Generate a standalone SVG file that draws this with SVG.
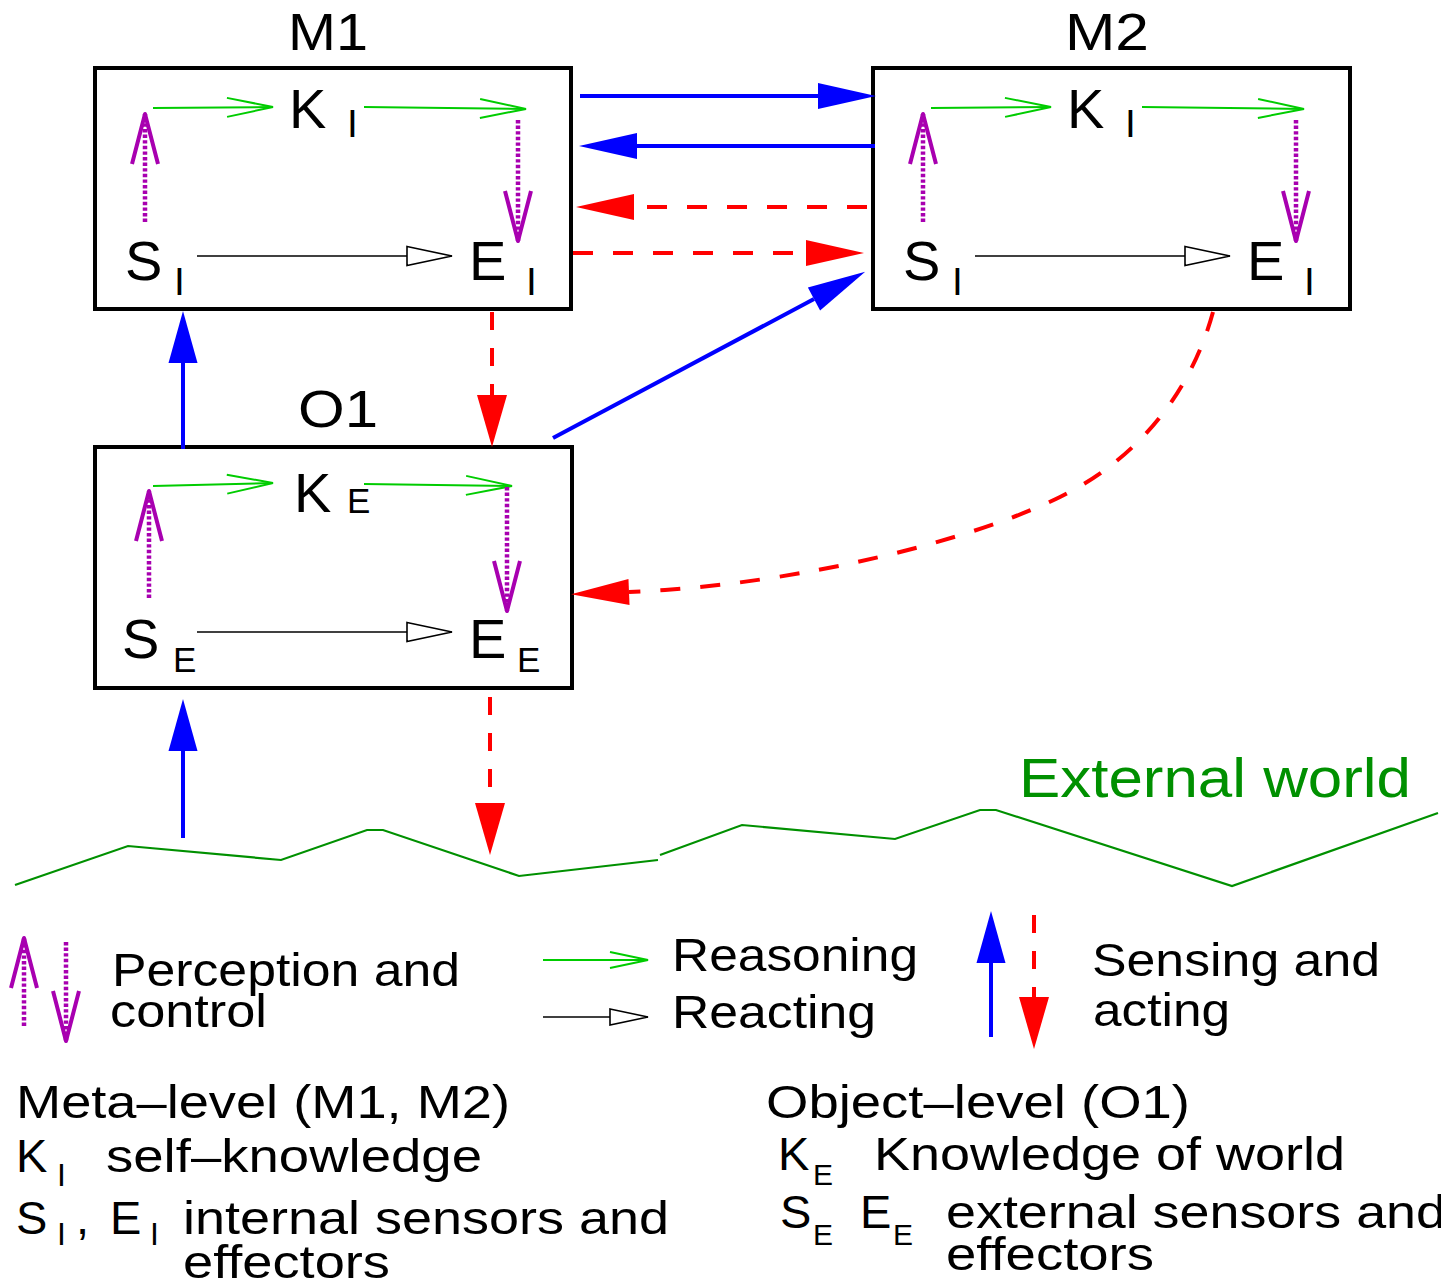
<svg xmlns="http://www.w3.org/2000/svg" width="1441" height="1282" viewBox="0 0 1441 1282">
<style>
text{font-family:"Liberation Sans",Arial,Helvetica,sans-serif;fill:#000}
.box{fill:#fff;stroke:#000;stroke-width:4}
.big{font-size:56px}
.subI{font-size:39px}
.subE{font-size:35px}
.title{font-size:51px}
.leg{font-size:47px}
.reason{fill:none;stroke:#00cc00;stroke-width:2}
.react{fill:none;stroke:#000;stroke-width:1.6}
.perc{fill:none;stroke:#a800b0;stroke-width:4.5;stroke-dasharray:3.4 2.2}
.blue{fill:none;stroke:#0000ff;stroke-width:4}
.red{fill:none;stroke:#ff0000;stroke-width:4;stroke-dasharray:20 20}
.redv{fill:none;stroke:#ff0000;stroke-width:4;stroke-dasharray:18 18}
.world{fill:none;stroke:#009000;stroke-width:2.2}
</style>
<defs>
<marker id="gOpen" markerUnits="userSpaceOnUse" orient="auto" refX="0" refY="0" markerWidth="1" markerHeight="1" overflow="visible"><path d="M-46,-9.5 L0,0 L-46,9.5" fill="none" stroke="#00cc00" stroke-width="2"/></marker>
<marker id="gOpenS" markerUnits="userSpaceOnUse" orient="auto" refX="0" refY="0" markerWidth="1" markerHeight="1" overflow="visible"><path d="M-38,-8 L0,0 L-38,8" fill="none" stroke="#00cc00" stroke-width="2"/></marker>
<marker id="kOpen" markerUnits="userSpaceOnUse" orient="auto" refX="0" refY="0" markerWidth="1" markerHeight="1" overflow="visible"><path d="M-45,-9.5 L0,0 L-45,9.5Z" fill="#fff" stroke="#000" stroke-width="1.6"/></marker>
<marker id="kOpenS" markerUnits="userSpaceOnUse" orient="auto" refX="0" refY="0" markerWidth="1" markerHeight="1" overflow="visible"><path d="M-38,-8 L0,0 L-38,8Z" fill="#fff" stroke="#000" stroke-width="1.6"/></marker>
<marker id="pOpen" markerUnits="userSpaceOnUse" orient="auto" refX="0" refY="0" markerWidth="1" markerHeight="1" overflow="visible"><path d="M-50,-13 L0,0 L-50,13" fill="none" stroke="#a800b0" stroke-width="4" stroke-linejoin="round"/></marker>
<marker id="bHead" markerUnits="userSpaceOnUse" orient="auto" refX="0" refY="0" markerWidth="1" markerHeight="1" overflow="visible"><path d="M0,-13 L58,0 L0,13Z" fill="#0000ff"/></marker>
<marker id="rHead" markerUnits="userSpaceOnUse" orient="auto" refX="0" refY="0" markerWidth="1" markerHeight="1" overflow="visible"><path d="M0,-13 L58,0 L0,13Z" fill="#ff0000"/></marker>
<marker id="bHeadV" markerUnits="userSpaceOnUse" orient="auto" refX="0" refY="0" markerWidth="1" markerHeight="1" overflow="visible"><path d="M0,-14.5 L52,0 L0,14.5Z" fill="#0000ff"/></marker>
<marker id="rHeadV" markerUnits="userSpaceOnUse" orient="auto" refX="0" refY="0" markerWidth="1" markerHeight="1" overflow="visible"><path d="M0,-15 L52,0 L0,15Z" fill="#ff0000"/></marker>
</defs>

<g id="world">
<polyline class="world" points="15,885 128,846 281,860 367,830 383,830 519,876 658,860"/>
<polyline class="world" points="660,855 742,825 895,839 980,810 996,810 1232,886 1438,813"/>
<text x="1019" y="797" font-size="55" textLength="392" lengthAdjust="spacingAndGlyphs" style="fill:#009000">External world</text>
</g>

<g id="M1">
<rect class="box" x="95" y="68" width="476" height="241"/>
<text class="title" x="288" y="50" textLength="80" lengthAdjust="spacingAndGlyphs">M1</text>
<text class="big" x="289" y="128">K</text><text class="subI" x="347" y="137">I</text>
<text class="big" x="125" y="280">S</text><text class="subI" x="174" y="295">I</text>
<text class="big" x="469" y="280">E</text><text class="subI" x="526" y="295">I</text>
<path class="reason" d="M153,108 L273,107" marker-end="url(#gOpen)"/>
<path class="reason" d="M364,107 L526,109" marker-end="url(#gOpen)"/>
<path class="perc" d="M145,222 L145,114" marker-end="url(#pOpen)"/>
<path class="perc" d="M518,120 L518,241" marker-end="url(#pOpen)"/>
<path class="react" d="M197,256 L452,256" marker-end="url(#kOpen)"/>
</g>

<g id="M2">
<rect class="box" x="873" y="68" width="477" height="241"/>
<text class="title" x="1065" y="50" textLength="84" lengthAdjust="spacingAndGlyphs">M2</text>
<text class="big" x="1067" y="128">K</text><text class="subI" x="1125" y="137">I</text>
<text class="big" x="903" y="280">S</text><text class="subI" x="952" y="295">I</text>
<text class="big" x="1247" y="280">E</text><text class="subI" x="1304" y="295">I</text>
<path class="reason" d="M931,108 L1051,107" marker-end="url(#gOpen)"/>
<path class="reason" d="M1142,107 L1304,109" marker-end="url(#gOpen)"/>
<path class="perc" d="M923,222 L923,114" marker-end="url(#pOpen)"/>
<path class="perc" d="M1296,120 L1296,241" marker-end="url(#pOpen)"/>
<path class="react" d="M975,256 L1230,256" marker-end="url(#kOpen)"/>
</g>

<g id="O1">
<rect class="box" x="95" y="447" width="477" height="241"/>
<text class="title" x="298" y="427" textLength="80" lengthAdjust="spacingAndGlyphs">O1</text>
<text class="big" x="294" y="512">K</text><text class="subE" x="347" y="513">E</text>
<text class="big" x="122" y="658">S</text><text class="subE" x="173" y="672">E</text>
<text class="big" x="469" y="658">E</text><text class="subE" x="517" y="672">E</text>
<path class="reason" d="M153,486 L273,483" marker-end="url(#gOpen)"/>
<path class="reason" d="M364,484 L512,486" marker-end="url(#gOpen)"/>
<path class="perc" d="M149,598 L149,491" marker-end="url(#pOpen)"/>
<path class="perc" d="M507,487 L507,611" marker-end="url(#pOpen)"/>
<path class="react" d="M197,632 L452,632" marker-end="url(#kOpen)"/>
</g>

<g id="connectors">
<path class="blue" d="M580,96 L818,96" marker-end="url(#bHead)"/>
<path class="blue" d="M875,146 L637,146" marker-end="url(#bHead)"/>
<path class="red" d="M867,207 L634,207" marker-end="url(#rHead)"/>
<path class="red" d="M573,253 L806,253" marker-end="url(#rHead)"/>
<path class="blue" d="M553,438 L814,299" marker-end="url(#bHead)"/>
<path class="blue" d="M183,449 L183,363" marker-end="url(#bHeadV)"/>
<path class="redv" d="M492,312 L492,395" marker-end="url(#rHeadV)"/>
<path class="red" d="M1213,312 C1193,385 1145,455 1060,497 S800,585 629,592" marker-end="url(#rHead)"/>
<path class="blue" d="M183,838 L183,751" marker-end="url(#bHeadV)"/>
<path class="redv" d="M490,697 L490,803" marker-end="url(#rHeadV)"/>
</g>

<g id="legend">
<path class="perc" d="M24,1026 L24,938" marker-end="url(#pOpen)"/>
<path class="perc" d="M66,942 L66,1041" marker-end="url(#pOpen)"/>
<text class="leg" x="112" y="986" textLength="348" lengthAdjust="spacingAndGlyphs">Perception and</text>
<text class="leg" x="110" y="1027" textLength="157" lengthAdjust="spacingAndGlyphs">control</text>
<path class="reason" d="M543,960 L648,960" marker-end="url(#gOpenS)"/>
<path class="react" d="M543,1017 L648,1017" marker-end="url(#kOpenS)"/>
<text class="leg" x="672" y="971" textLength="246" lengthAdjust="spacingAndGlyphs">Reasoning</text>
<text class="leg" x="672" y="1028" textLength="204" lengthAdjust="spacingAndGlyphs">Reacting</text>
<path class="blue" d="M991,1037 L991,963" marker-end="url(#bHeadV)"/>
<path class="redv" d="M1034,915 L1034,997" marker-end="url(#rHeadV)"/>
<text class="leg" x="1092" y="976" textLength="288" lengthAdjust="spacingAndGlyphs">Sensing and</text>
<text class="leg" x="1093" y="1026" textLength="137" lengthAdjust="spacingAndGlyphs">acting</text>

<text class="leg" x="16" y="1118" textLength="494" lengthAdjust="spacingAndGlyphs">Meta–level (M1, M2)</text>
<text class="leg" x="16" y="1172">K</text><text x="57" y="1186" font-size="32">I</text>
<text class="leg" x="106" y="1172" textLength="376" lengthAdjust="spacingAndGlyphs">self–knowledge</text>
<text class="leg" x="16" y="1234">S</text><text x="57" y="1245" font-size="32">I</text>
<text class="leg" x="76" y="1234">,</text>
<text class="leg" x="110" y="1234">E</text><text x="150" y="1245" font-size="32">I</text>
<text class="leg" x="183" y="1234" textLength="486" lengthAdjust="spacingAndGlyphs">internal sensors and</text>
<text class="leg" x="183" y="1278" textLength="207" lengthAdjust="spacingAndGlyphs">effectors</text>

<text class="leg" x="766" y="1118" textLength="424" lengthAdjust="spacingAndGlyphs">Object–level (O1)</text>
<text class="leg" x="778" y="1170">K</text><text x="813" y="1185" font-size="30">E</text>
<text class="leg" x="874" y="1170" textLength="471" lengthAdjust="spacingAndGlyphs">Knowledge of world</text>
<text class="leg" x="780" y="1228">S</text><text x="813" y="1245" font-size="30">E</text>
<text class="leg" x="860" y="1228">E</text><text x="893" y="1245" font-size="30">E</text>
<text class="leg" x="946" y="1228" textLength="500" lengthAdjust="spacingAndGlyphs">external sensors and</text>
<text class="leg" x="946" y="1270" textLength="208" lengthAdjust="spacingAndGlyphs">effectors</text>
</g>
</svg>
